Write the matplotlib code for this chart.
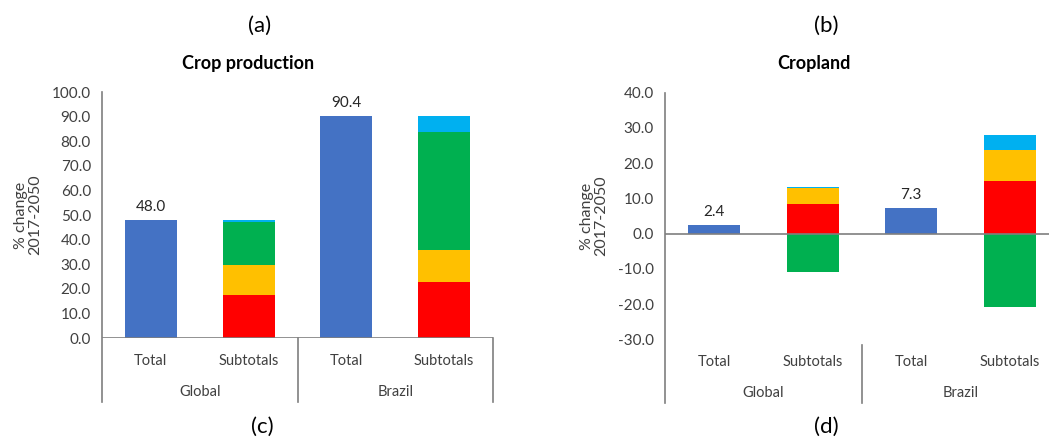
import matplotlib.pyplot as plt
import numpy as np

# categorias e grupos do eixo x
categorias = ['Total', 'Subtotals', 'Total', 'Subtotals']
grupos = ['Global', 'Brazil']

# (a/c) producao agricola, % de mudanca 2017-2050
prod_total = [48.0, 90.4]
prod_vermelho = [17.5, 22.9]
prod_amarelo = [12.2, 12.7]
prod_verde = [17.6, 48.3]
prod_azul_claro = [0.7, 6.5]

# (b/d) area de cultivo, % de mudanca 2017-2050
area_total = [2.4, 7.3]
area_vermelho = [8.4, 14.9]
area_amarelo = [4.5, 8.7]
area_azul_claro = [0.4, 4.5]
area_verde = [-10.9, -20.8]

cor_total = '#4472C4'
cor_vermelho = '#FF0000'
cor_amarelo = '#FFC000'
cor_verde = '#00B050'
cor_azul_claro = '#00B0F0'
cor_eixo = '#7F7F7F'
cor_texto = '#404040'

plt.rcParams['font.family'] = ['Lato', 'DejaVu Sans']

W, H = 1049, 441
fig = plt.figure(figsize=(W / 100, H / 100), dpi=100)


def eixo_px(x0, x1, y0, y1):
    # cria eixo a partir de coordenadas em pixels (origem no topo)
    return fig.add_axes([x0 / W, 1 - y1 / H, (x1 - x0) / W, (y1 - y0) / H])


def texto_px(x, y, s, **kw):
    fig.text(x / W, 1 - y / H, s, ha='center', va='center', **kw)


def empilha(ax, x, camadas):
    # barras empilhadas, positivos pra cima e negativos pra baixo
    base_pos = 0.0
    base_neg = 0.0
    for valor, cor in camadas:
        if valor >= 0:
            ax.bar(x, valor, 0.53, bottom=base_pos, color=cor, zorder=2)
            base_pos += valor
        else:
            ax.bar(x, valor, 0.53, bottom=base_neg, color=cor, zorder=2)
            base_neg += valor


def grafico(ax, totais, camadas, ylim, passo, y_zero_linha):
    x = np.arange(4)
    for i in range(2):
        xt = x[2 * i]
        ax.bar(xt, totais[i], 0.53, color=cor_total, zorder=2)
        ax.annotate('%.1f' % totais[i], (xt, totais[i]), xytext=(0, 13),
                    textcoords='offset pixels', ha='center', va='center',
                    fontsize=11, color='#262626')
        empilha(ax, x[2 * i + 1], [(c[i], cor) for c, cor in camadas])

    ax.set_ylim(*ylim)
    ax.set_yticks(np.arange(ylim[0], ylim[1] + 0.1, passo))
    ax.set_yticklabels(['%.1f' % v for v in ax.get_yticks()])
    ax.tick_params(axis='y', length=0, labelsize=11, colors=cor_texto, pad=8)
    ax.set_xticks([])
    for lado in ['top', 'right', 'bottom', 'left']:
        ax.spines[lado].set_visible(False)
    ax.axhline(0, color=cor_eixo, lw=1.2, zorder=3)

    # linhas e rotulos do eixo de categorias
    trans = ax.get_xaxis_transform()
    base = -0.26
    ax.plot([-0.5, -0.5], [base, 1], transform=trans, color=cor_eixo,
            lw=1.2, clip_on=False)
    ax.plot([1.5, 1.5], [y_zero_linha, base], transform=trans, color=cor_eixo,
            lw=1.2, clip_on=False)
    ax.plot([3.5, 3.5], [y_zero_linha, base], transform=trans, color=cor_eixo,
            lw=1.2, clip_on=False)
    for i, nome in enumerate(categorias):
        ax.text(i, -0.092, nome, transform=trans, ha='center', va='center',
                fontsize=10.5, color=cor_texto)
    for i, nome in enumerate(grupos):
        ax.text(2 * i + 0.5, -0.218, nome, transform=trans, ha='center',
                va='center', fontsize=10.5, color=cor_texto)
    ax.set_ylabel('% change\n2017-2050', fontsize=11.5, color=cor_texto,
                  linespacing=1.0)


ax1 = eixo_px(102, 493, 92, 338)
grafico(ax1, prod_total,
        [(prod_vermelho, cor_vermelho), (prod_amarelo, cor_amarelo),
         (prod_verde, cor_verde), (prod_azul_claro, cor_azul_claro)],
        (0, 100), 10, 0.0)
ax1.set_xlim(-0.5, 3.5)
ax1.yaxis.set_label_coords(-0.153, 0.5)

ax2 = eixo_px(665, 1049, 92.7, 339.3)
grafico(ax2, area_total,
        [(area_vermelho, cor_vermelho), (area_amarelo, cor_amarelo),
         (area_azul_claro, cor_azul_claro), (area_verde, cor_verde)],
        (-30, 40), 10, -0.025)
ax2.set_xlim(-0.5, 3.4)
ax2.yaxis.set_label_coords(-0.148, 0.5)

# titulos e letras dos paineis
texto_px(248, 63, 'Crop production', fontsize=13, fontweight='bold')
texto_px(814, 63, 'Cropland', fontsize=13, fontweight='bold')
texto_px(260, 26, '(a)', fontsize=16)
texto_px(826, 26, '(b)', fontsize=16)
texto_px(262, 427, '(c)', fontsize=16)
texto_px(826, 427, '(d)', fontsize=16)

fig.savefig('out.png', dpi=100)
